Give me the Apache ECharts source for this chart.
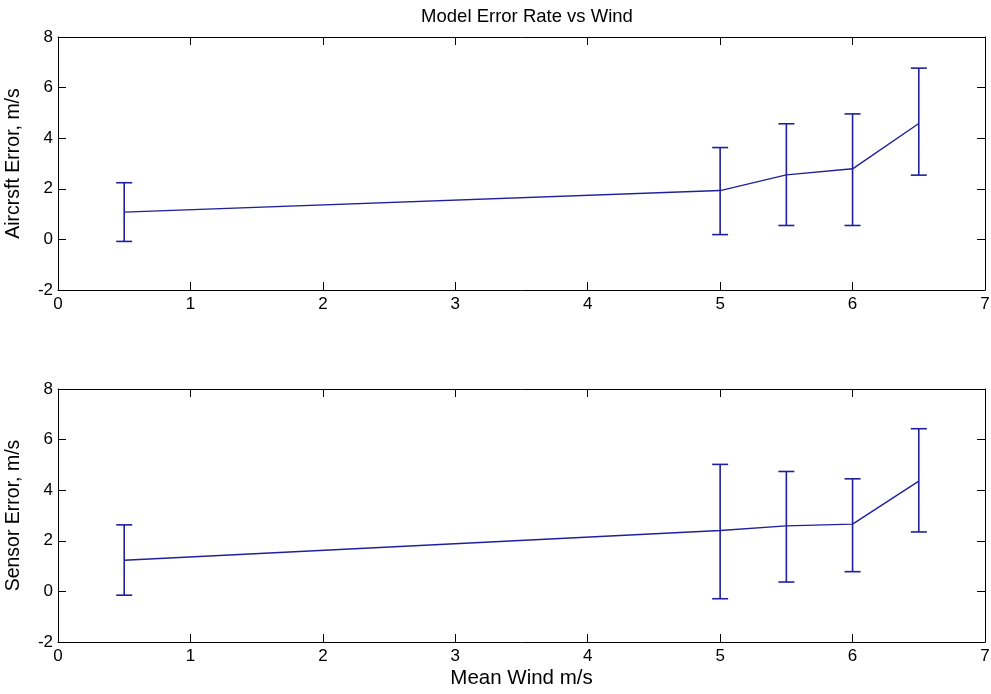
<!DOCTYPE html>
<html>
<head>
<meta charset="utf-8">
<script src="https://cdn.jsdelivr.net/npm/echarts@6/dist/echarts.min.js"></script>
<style>html,body{margin:0;padding:0;background:#fff;}#c{width:991px;height:694px;}</style>
</head>
<body>
<div id="c"></div>
<script>
// Data
const windX = [0.5, 5, 5.5, 6, 6.5];
const aircraftMean  = [1.08, 1.93, 2.55, 2.79, 4.58];
const aircraftLower = [-0.08, 0.19, 0.55, 0.55, 2.54];
const aircraftUpper = [2.24, 3.63, 4.57, 4.96, 6.77];
const sensorMean  = [1.23, 2.41, 2.59, 2.66, 4.36];
const sensorLower = [-0.15, -0.29, 0.37, 0.78, 2.35];
const sensorUpper = [2.63, 5.02, 4.74, 4.45, 6.43];
const xTicks = [0, 1, 2, 3, 4, 5, 6, 7];
const yTicks = [-2, 0, 2, 4, 6, 8];

const FONT = '"Liberation Sans", Arial, sans-serif';
const LINE = '#20209c';
const chart = echarts.init(document.getElementById('c'));

const grids = [
  {left: 58, right: 6, top: 37, height: 253, containLabel: false, outerBoundsMode: 'none'},
  {left: 58, right: 6, top: 389, height: 253, containLabel: false, outerBoundsMode: 'none'}
];

function xAx(gi, pos, labels, name) {
  return {
    type: 'value', gridIndex: gi, position: pos,
    min: xTicks[0], max: xTicks[xTicks.length - 1], interval: 1,
    axisLine: {show: true, onZero: false, lineStyle: {color: '#000', width: 1}},
    axisTick: {show: true, inside: true, length: 8, lineStyle: {color: '#000'}},
    axisLabel: {show: labels, color: '#000', fontFamily: FONT, fontSize: 17, margin: 6},
    splitLine: {show: false},
    name: name || '', nameLocation: 'middle', nameGap: 26,
    nameTextStyle: {color: '#000', fontFamily: FONT, fontSize: 20.5}
  };
}
function yAx(gi, pos, labels, name) {
  return {
    type: 'value', gridIndex: gi, position: pos,
    min: yTicks[0], max: yTicks[yTicks.length - 1], interval: 2,
    axisLine: {show: true, onZero: false, lineStyle: {color: '#000', width: 1}},
    axisTick: {show: true, inside: true, length: 8, lineStyle: {color: '#000'}},
    axisLabel: {show: labels, color: '#000', fontFamily: FONT, fontSize: 17, margin: 5},
    splitLine: {show: false},
    name: name || '', nameLocation: 'middle', nameGap: 34,
    nameTextStyle: {color: '#000', fontFamily: FONT, fontSize: 19.5}
  };
}

function errSeries(xi, yi, lower, upper) {
  const data = windX.map((x, i) => [x, lower[i], upper[i]]);
  return {
    type: 'custom', xAxisIndex: xi, yAxisIndex: yi, data: data, z: 3,
    renderItem: function (params, api) {
      const lo = api.coord([api.value(0), api.value(1)]);
      const hi = api.coord([api.value(0), api.value(2)]);
      const hw = 8;
      const st = {stroke: LINE, lineWidth: 1.6, fill: null};
      return {
        type: 'group',
        children: [
          {type: 'line', shape: {x1: lo[0], y1: lo[1], x2: hi[0], y2: hi[1]}, style: st},
          {type: 'line', shape: {x1: lo[0] - hw, y1: lo[1], x2: lo[0] + hw, y2: lo[1]}, style: st},
          {type: 'line', shape: {x1: hi[0] - hw, y1: hi[1], x2: hi[0] + hw, y2: hi[1]}, style: st}
        ]
      };
    }
  };
}
function lineSeries(xi, yi, mean) {
  return {
    type: 'line', xAxisIndex: xi, yAxisIndex: yi,
    data: windX.map((x, i) => [x, mean[i]]),
    showSymbol: false, symbol: 'none',
    lineStyle: {color: LINE, width: 1.4}, z: 4
  };
}

chart.setOption({
  animation: false,
  backgroundColor: '#fff',
  title: {
    text: 'Model Error Rate vs Wind', left: 522, top: 2, textAlign: 'center',
    textStyle: {color: '#000', fontFamily: FONT, fontSize: 18.5, fontWeight: 'normal'}
  },
  grid: grids,
  xAxis: [
    xAx(0, 'bottom', true),
    xAx(0, 'top', false),
    xAx(1, 'bottom', true, 'Mean Wind m/s'),
    xAx(1, 'top', false)
  ],
  yAxis: [
    yAx(0, 'left', true, 'Aircrsft Error, m/s'),
    yAx(0, 'right', false),
    yAx(1, 'left', true, 'Sensor Error, m/s'),
    yAx(1, 'right', false)
  ],
  series: [
    errSeries(0, 0, aircraftLower, aircraftUpper),
    lineSeries(0, 0, aircraftMean),
    errSeries(2, 2, sensorLower, sensorUpper),
    lineSeries(2, 2, sensorMean)
  ]
});
</script>
</body>
</html>
